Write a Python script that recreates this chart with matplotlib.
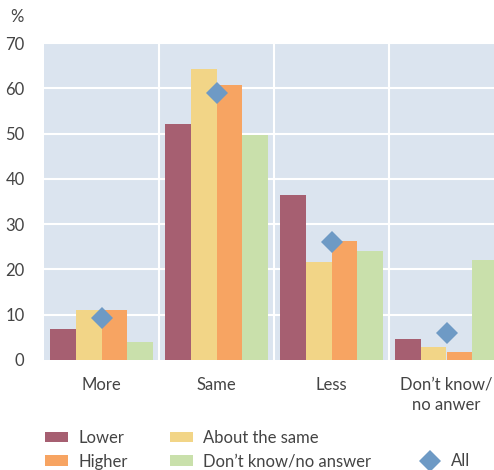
import matplotlib
matplotlib.use("Agg")
import matplotlib.pyplot as plt
import numpy as np
from matplotlib.patches import Patch
from matplotlib.lines import Line2D

categories = ["More", "Same", "Less", "Don\u2019t know/\nno anwer"]
lower = [6.8, 52.1, 36.4, 4.6]
about_same = [11.0, 64.2, 21.7, 2.8]
higher = [11.0, 60.7, 26.3, 1.8]
dont_know = [3.9, 49.7, 24.1, 22.0]
all_resp = [9.2, 59.0, 26.1, 6.0]
series_labels = ["Lower", "About the same", "Higher", "Don\u2019t know/no answer"]
yticks = [0, 10, 20, 30, 40, 50, 60, 70]

colors = ["#a65f71", "#f2d587", "#f7a462", "#c9e0ab"]
diamond_color = "#6e9ac5"
text_color = "#444444"
bg = "#dbe4ef"

plt.rcParams['font.family'] = ['Lato', 'DejaVu Sans']

fig = plt.figure(figsize=(4.94, 4.70), dpi=100)
W, H = 494, 470
ax = fig.add_axes([44 / W, (H - 360) / H, 450 / W, 317 / H])
ax.set_facecolor(bg)

x = np.arange(len(categories))
bw = 0.222
series = [lower, about_same, higher, dont_know]
for i, (vals, c) in enumerate(zip(series, colors)):
    ax.bar(x + (i - 1.5) * bw, vals, width=bw, color=c, zorder=3, linewidth=0)
ax.plot(x, all_resp, linestyle="none", marker="D", markersize=11,
        color=diamond_color, markeredgewidth=0, zorder=4)

ax.set_xlim(-0.5, -0.5 + 450 / 115)
ax.set_ylim(0, 70)
ax.set_yticks(yticks)
ax.set_yticklabels([str(v) for v in yticks])
for v in yticks[1:]:
    ax.axhline(v, color="white", lw=1.5, zorder=1)
for s in [0.5, 1.5, 2.5]:
    ax.axvline(s, color="white", lw=1.5, zorder=1)
ax.set_xticks(x)
ax.set_xticklabels(categories, linespacing=1.35)
ax.tick_params(axis="both", length=0, labelsize=12, colors=text_color)
ax.tick_params(axis="y", pad=14)
ax.tick_params(axis="x", pad=12)
for sp in ax.spines.values():
    sp.set_visible(False)

fig.text(10 / W, 1 - 17 / H, "%", fontsize=12, color=text_color, va="center", ha="left")

def mk_legend(handles, labels, xpx, ypx):
    lg = fig.legend(handles, labels, loc="upper left",
                    bbox_to_anchor=(xpx / W, 1 - ypx / H), frameon=False,
                    borderpad=0, borderaxespad=0, fontsize=12, handlelength=1.4,
                    handleheight=0.6, handletextpad=0.6, labelspacing=0.45,
                    labelcolor=text_color)
    return lg

h = [Patch(facecolor=c, linewidth=0) for c in colors]
mk_legend([h[0], h[2]], [series_labels[0], series_labels[2]], 45, 430)
mk_legend([h[1], h[3]], [series_labels[1], series_labels[3]], 170, 430)
dh = Line2D([], [], linestyle="none", marker="D", markersize=11,
            color=diamond_color, markeredgewidth=0)
mk_legend([Patch(facecolor="none", edgecolor="none"), dh], ["", "All"], 418, 430)

fig.savefig("out.png", dpi=100)
